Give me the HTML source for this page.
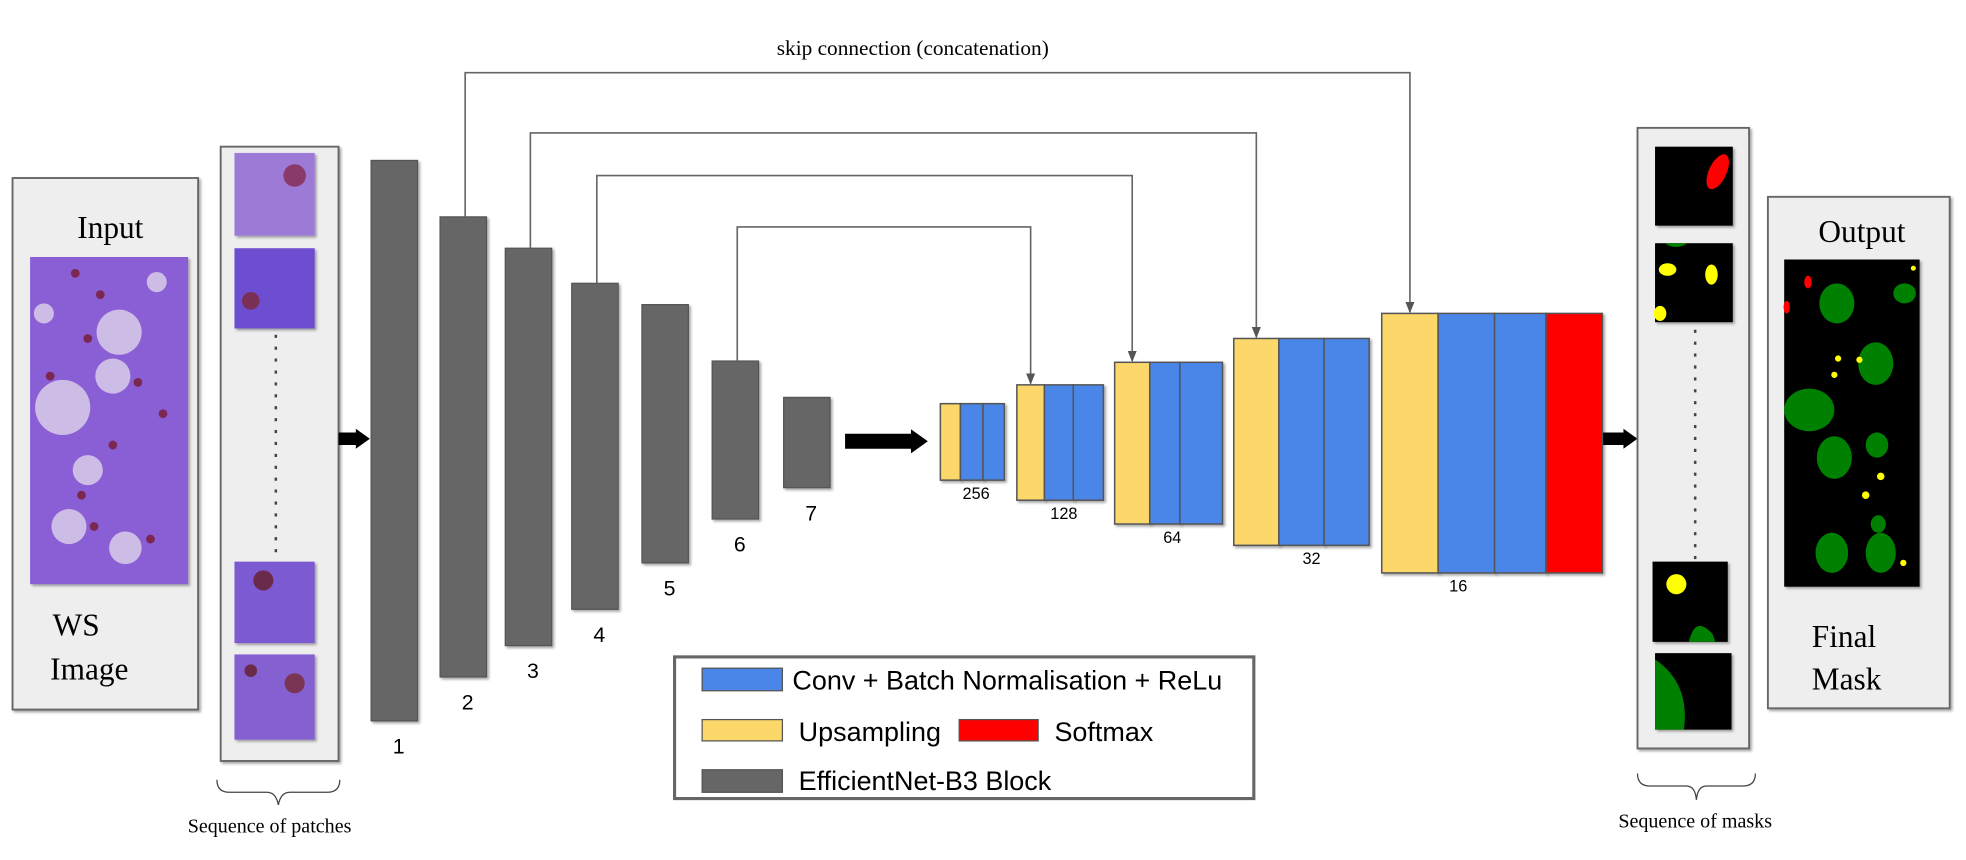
<!DOCTYPE html>
<html><head><meta charset="utf-8">
<style>
html,body{margin:0;padding:0;background:#fff;}
svg{display:block;}
.serif{font-family:"Liberation Serif",serif;fill:#000;}
.sans{font-family:"Liberation Sans",sans-serif;fill:#000;}
</style></head>
<body>
<svg id="fig" width="1966" height="860" viewBox="0 0 1568 686" preserveAspectRatio="none" xmlns="http://www.w3.org/2000/svg">
<defs>
<marker id="ah" viewBox="0 0 10 10" refX="9" refY="5" markerWidth="7" markerHeight="7" orient="auto"><path d="M0,1 L10,5 L0,9 z" fill="#555"/></marker>
<filter id="sh" x="-10%" y="-10%" width="130%" height="130%"><feDropShadow dx="1.5" dy="1.5" stdDeviation="1" flood-color="#000" flood-opacity="0.35"/></filter>
</defs>

<text class="serif" x="728" y="44" font-size="17" text-anchor="middle">skip connection (concatenation)</text>

<g>
<rect x="10" y="142" width="148" height="424" fill="#eeeeee" stroke="#666" stroke-width="1.5" filter="url(#sh)"/>
<text class="serif" x="88" y="190" font-size="25" text-anchor="middle">Input</text>
<rect x="24" y="205" width="126" height="261" fill="#8a5fd6" filter="url(#sh)"/>
<g id="tissue"></g>
<text class="serif" x="42" y="507" font-size="25">WS</text>
<text class="serif" x="40" y="542" font-size="25">Image</text>
</g>

<g>
<rect x="176" y="117" width="94" height="490" fill="#eeeeee" stroke="#666" stroke-width="1.5" filter="url(#sh)"/>
<rect x="187" y="122" width="64" height="66" fill="#9c7ad6" filter="url(#sh)"/>
<rect x="187" y="198" width="64" height="64" fill="#6d4ed0" filter="url(#sh)"/>
<rect x="187" y="448" width="64" height="65" fill="#7b5ad2" filter="url(#sh)"/>
<rect x="187" y="522" width="64" height="68" fill="#8460d0" filter="url(#sh)"/>
<circle cx="235" cy="140" r="9" fill="#8a3a6a"/><circle cx="200" cy="240" r="7" fill="#7a2f55"/>
<circle cx="210" cy="463" r="8" fill="#6a2a4a"/><circle cx="235" cy="545" r="8" fill="#7a3555"/>
<circle cx="200" cy="535" r="5" fill="#6a2a4a"/>
<line x1="220" y1="267" x2="220" y2="442" stroke="#444" stroke-width="2" stroke-dasharray="2.5,7"/>
</g>
<path d="M173,622 Q173,632 183,632 L213,632 Q220,632 222,642 Q224,632 231,632 L261,632 Q271,632 271,622" fill="none" stroke="#444" stroke-width="1"/>
<text class="serif" x="215" y="664" font-size="16" text-anchor="middle">Sequence of patches</text>

<g id="arrows"></g>
<g id="encoder"></g>
<g id="skips"></g>
<g id="decoder"></g>

<g>
<rect x="1306" y="102" width="89" height="495" fill="#eeeeee" stroke="#666" stroke-width="1.5" filter="url(#sh)"/>
<rect x="1320" y="117" width="62" height="63" fill="#000" filter="url(#sh)"/>
<ellipse cx="1370" cy="137" rx="7" ry="15" transform="rotate(25 1370 137)" fill="#ff0000"/>
<rect x="1320" y="194" width="62" height="63" fill="#000" filter="url(#sh)"/>
<ellipse cx="1330" cy="215" rx="7" ry="5" fill="#ffff00"/><ellipse cx="1365" cy="219" rx="5" ry="8" fill="#ffff00"/><ellipse cx="1324" cy="250" rx="5" ry="6" fill="#ffff00"/>
<path d="M1328,194 Q1336,200 1346,194 z" fill="#008000"/>
<rect x="1318" y="448" width="60" height="64" fill="#000" filter="url(#sh)"/>
<circle cx="1337" cy="466" r="8" fill="#ffff00"/><path d="M1347,512 Q1352,490 1366,506 L1368,512 z" fill="#008000"/>
<rect x="1320" y="521" width="61" height="61" fill="#000" filter="url(#sh)"/>
<path d="M1320,526 Q1348,545 1343,582 L1320,582 z" fill="#008000"/>
<line x1="1352" y1="263" x2="1352" y2="446" stroke="#444" stroke-width="2" stroke-dasharray="2.5,7"/>
</g>
<path d="M1306,617 Q1306,627 1316,627 L1345,627 Q1352,627 1353,638 Q1354,627 1361,627 L1390,627 Q1400,627 1400,617" fill="none" stroke="#444" stroke-width="1"/>
<text class="serif" x="1352" y="660" font-size="16" text-anchor="middle">Sequence of masks</text>

<g>
<rect x="1410" y="157" width="145" height="408" fill="#eeeeee" stroke="#666" stroke-width="1.5" filter="url(#sh)"/>
<text class="serif" x="1485" y="193" font-size="25" text-anchor="middle">Output</text>
<rect x="1423" y="207" width="108" height="261" fill="#000" filter="url(#sh)"/>
<g fill="#008000">
<ellipse cx="1465" cy="242" rx="14" ry="16"/><ellipse cx="1519" cy="234" rx="9" ry="8"/><ellipse cx="1496" cy="290" rx="14" ry="17"/>
<ellipse cx="1443" cy="327" rx="20" ry="17"/><ellipse cx="1463" cy="365" rx="14" ry="17"/><ellipse cx="1497" cy="355" rx="9" ry="10"/>
<ellipse cx="1498" cy="418" rx="6" ry="7"/><ellipse cx="1461" cy="441" rx="13" ry="16"/><ellipse cx="1500" cy="441" rx="12" ry="16"/>
</g>
<g fill="#ffff00"><circle cx="1466" cy="286" r="2.5"/><circle cx="1483" cy="287" r="2.5"/><circle cx="1463" cy="299" r="2.5"/><circle cx="1500" cy="380" r="3"/><circle cx="1488" cy="395" r="3"/><circle cx="1518" cy="449" r="2.5"/><circle cx="1526" cy="214" r="2"/></g>
<g fill="#ff0000"><ellipse cx="1442" cy="225" rx="3" ry="5"/><ellipse cx="1425" cy="245" rx="2.5" ry="5"/></g>
<text class="serif" x="1445" y="516" font-size="25">Final</text>
<text class="serif" x="1445" y="550" font-size="25">Mask</text>
</g>

<g>
<rect x="538" y="524" width="462" height="113" fill="#fff" stroke="#666" stroke-width="2.5"/>
<g>
<rect x="560" y="533" width="64" height="18" fill="#4a86e8" stroke="#555" stroke-width="1"/>
<text class="sans" x="632" y="550" font-size="21.5">Conv + Batch Normalisation + ReLu</text></g>
<g>
<rect x="560" y="574" width="64" height="17" fill="#fcd86b" stroke="#555" stroke-width="1"/>
<text class="sans" x="637" y="591" font-size="21.5">Upsampling</text></g>
<g>
<rect x="765" y="574" width="63" height="17" fill="#ff0000" stroke="#555" stroke-width="1"/>
<text class="sans" x="841" y="591" font-size="21.5">Softmax</text></g>
<g>
<rect x="560" y="614" width="64" height="18" fill="#666" stroke="#555" stroke-width="1"/>
<text class="sans" x="637" y="630" font-size="21.5">EfficientNet-B3 Block</text></g>
</g>
</svg>
<script>
var encLabels = ["1","2","3","4","5","6","7"];
var encX = [296,351,403,456,512,568,625];
var encTop = [128,173,198,226,243,288,317];
var encBottom = [575,540,515,486,449,414,389];
var decLabels = ["256","128","64","32","16"];
var decTop = [322,307,289,270,250];
var decBottom = [383,399,418,435,457];
var decEdges = [[750,766,784,801],[811,833,856,880],[889,917,941,975],[984,1020,1056,1092],[1102,1147,1192,1233,1278]];
var skipFrom = [1,2,3,5];
var skipTo = [4,3,2,1];
var skipY = [58,106,140,181];

var NS="http://www.w3.org/2000/svg";
function mk(tag, attrs, parent){var e=document.createElementNS(NS,tag);for(var k in attrs){e.setAttribute(k,attrs[k]);}parent.appendChild(e);return e;}
var encG=document.getElementById('encoder');
for(var i=0;i<encX.length;i++){
  var r=mk('rect',{x:encX[i],y:encTop[i],width:37,height:encBottom[i]-encTop[i],fill:'#666',stroke:'#555','stroke-width':1,filter:'url(#sh)'},encG);
  
  
  var t=mk('text',{x:encX[i]+22,y:encBottom[i]+26,'font-size':17,'text-anchor':'middle','font-family':'Liberation Sans, sans-serif'},encG);
  t.textContent=encLabels[i];
  
  
}
var decG=document.getElementById('decoder');
for(var g=0;g<decLabels.length;g++){
  var ed=decEdges[g];
  for(var j=0;j<ed.length-1;j++){
    var col=j==0?'#fcd86b':(j==3?'#ff0000':'#4a86e8');
    var r2=mk('rect',{x:ed[j],y:decTop[g],width:ed[j+1]-ed[j],height:decBottom[g]-decTop[g],fill:col,stroke:'#555','stroke-width':1.2,filter:'url(#sh)'},decG);
    
    
  }
  var cx=(ed[0]+ed[ed.length-1])/2+(g==4?-27:(g==3?8:3));
  var t2=mk('text',{x:cx,y:decBottom[g]+15,'font-size':13,'text-anchor':'middle','font-family':'Liberation Sans, sans-serif'},decG);
  t2.textContent=decLabels[g];
  
  
}
var skG=document.getElementById('skips');
for(var s=0;s<skipFrom.length;s++){
  var sx=encX[skipFrom[s]]+20, dg=skipTo[s], dx=decEdges[dg][0]+(decEdges[dg][1]-decEdges[dg][0])/2;
  var p=mk('path',{d:'M'+sx+','+encTop[skipFrom[s]]+' L'+sx+','+skipY[s]+' L'+dx+','+skipY[s]+' L'+dx+','+(decTop[dg]-1),fill:'none',stroke:'#666','stroke-width':1.3,'marker-end':'url(#ah)'},skG);
  
  
}
var arG=document.getElementById('arrows');
function arrow(x1,x2,y,h,name){
  var hw=h*1.6;
  var pa=mk('path',{d:'M'+x1+','+(y-h/2)+' L'+(x2-hw*0.7)+','+(y-h/2)+' L'+(x2-hw*0.7)+','+(y-hw/2)+' L'+x2+','+y+' L'+(x2-hw*0.7)+','+(y+hw/2)+' L'+(x2-hw*0.7)+','+(y+h/2)+' L'+x1+','+(y+h/2)+' z',fill:'#000'},arG);
  
  
}
arrow(270,295,350,10,'arrow-patches-to-encoder');
arrow(674,740,352,12,'arrow-encoder-to-decoder');
arrow(1278,1306,350,10,'arrow-decoder-to-masks');
var tg=document.getElementById('tissue');
var cells=[[95,265,18],[50,325,22],[90,300,14],[55,420,14],[100,437,13],[70,375,12],[125,225,8],[35,250,8]];
for(var c=0;c<cells.length;c++){
  mk('circle',{cx:cells[c][0],cy:cells[c][1],r:cells[c][2],fill:'#d8cde8',opacity:0.85},tg);
}
var nuc=[[60,218],[80,235],[70,270],[40,300],[110,305],[90,355],[75,420],[120,430],[65,395],[130,330]];
for(var n=0;n<nuc.length;n++){mk('circle',{cx:nuc[n][0],cy:nuc[n][1],r:3.5,fill:'#7a2850'},tg);}
</script>
</body></html>
